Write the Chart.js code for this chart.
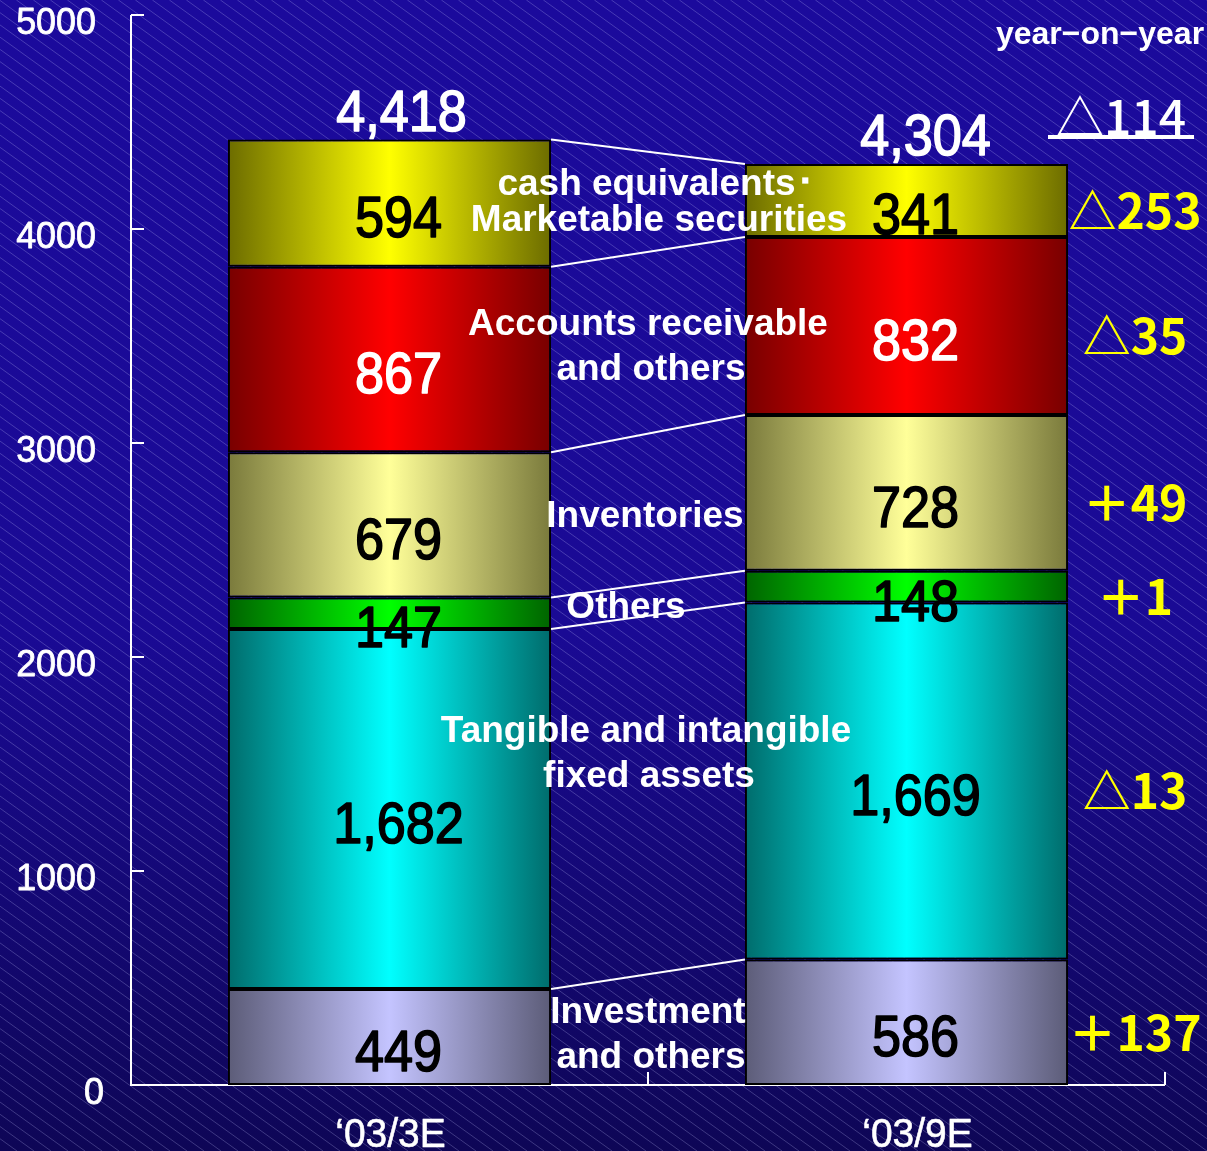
<!DOCTYPE html>
<html>
<head>
<meta charset="utf-8">
<script src="https://cdn.jsdelivr.net/npm/chart.js@4.4.1/dist/chart.umd.min.js"></script>
<style>
  html, body { margin: 0; padding: 0; background: #150a80; }
  canvas { display: block; }
</style>
</head>
<body>
<canvas id="assetChart" width="1207" height="1151"></canvas>
<script>
'use strict';

/* ---- data (units: hundred million yen) ---- */
const periods     = ['\u201803/3E', '\u201803/9E'];
const investment  = [449, 586];
const fixedAssets = [1682, 1669];
const others      = [147, 148];
const inventories = [679, 728];
const receivables = [867, 832];
const cashSecs    = [594, 341];
const yTicks      = [0, 1000, 2000, 3000, 4000, 5000];

const segmentNames = [
    ['Investment', 'and others'],
    ['Tangible and intangible', 'fixed assets'],
    ['Others'],
    ['Inventories'],
    ['Accounts receivable', 'and others'],
    ['cash equivalents\uFF65', 'Marketable securities']
];

/* ---- look ---- */
const BAR_FRACTION = 0.625;
const SANS = '"Liberation Sans", Arial, sans-serif';
const CJK  = '"Noto Sans CJK JP", sans-serif';

// where each segment name sits between the bars: [x, y of first line, line gap]
const nameSpots = [
    [648, 1013, 45],
    [646, 732, 45],
    [626, 608, 0],
    [645, 517, 0],
    [648, 325, 45],
    [656, 185, 36]
];

function fmt(v) { return v.toLocaleString('en-US'); }
function yoy(a, b) {
    const d = b - a;
    return d < 0 ? '\u25B3' + Math.abs(d) : '\uFF0B' + d;
}

// text squeezed horizontally, with a thin outline to thicken strokes
function narrowText(ctx, txt, x, y, sx, heavy) {
    ctx.save();
    ctx.translate(x, y);
    ctx.scale(sx, 1);
    if (heavy) {
        ctx.lineWidth = heavy;
        ctx.strokeStyle = ctx.fillStyle;
        ctx.lineJoin = 'round';
        ctx.strokeText(txt, 0, 0);
    }
    ctx.fillText(txt, 0, 0);
    ctx.restore();
}

function barGradient(dark, light) {
    return ctx => {
        const chart = ctx.chart;
        const area  = chart.chartArea;
        if (!area || ctx.dataIndex === undefined) return light;
        const cx   = chart.scales.x.getPixelForValue(ctx.dataIndex);
        const half = (area.width / periods.length) * BAR_FRACTION / 2;
        const g = chart.ctx.createLinearGradient(cx - half, 0, cx + half, 0);
        g.addColorStop(0, dark);
        g.addColorStop(0.5, light);
        g.addColorStop(1, dark);
        return g;
    };
}

const series = [
    { label: segmentNames[0].join(' '), data: investment,  dark: '#5c5c78', light: '#c4c4ff', text: '#000' },
    { label: segmentNames[1].join(' '), data: fixedAssets, dark: '#006c6c', light: '#00ffff', text: '#000' },
    { label: segmentNames[2].join(' '), data: others,      dark: '#006400', light: '#00ff00', text: '#000' },
    { label: segmentNames[3].join(' '), data: inventories, dark: '#7a7a3c', light: '#ffff99', text: '#000' },
    { label: segmentNames[4].join(' '), data: receivables, dark: '#780000', light: '#ff0000', text: '#fff' },
    { label: segmentNames[5].join(' '), data: cashSecs,    dark: '#6c6c00', light: '#ffff00', text: '#000' }
];

/* ---- background: blue gradient with fine diagonal hatching ---- */
const backdrop = {
    id: 'backdrop',
    beforeDraw(chart) {
        const { ctx, width, height } = chart;
        ctx.save();
        const g = ctx.createLinearGradient(0, 0, 0, height);
        g.addColorStop(0, '#1b0a9c');
        g.addColorStop(0.55, '#1a0a94');
        g.addColorStop(1, '#0e0656');
        ctx.fillStyle = g;
        ctx.fillRect(0, 0, width, height);
        ctx.strokeStyle = 'rgba(200,200,255,0.26)';
        ctx.lineWidth = 1;
        const slope = 0.72, step = 17;
        const run = height / slope;
        ctx.beginPath();
        for (let x = -run; x < width; x += step) {
            ctx.moveTo(x, 0);
            ctx.lineTo(x + run, height);
        }
        ctx.stroke();
        ctx.restore();
    }
};

/* ---- axes with inward ticks ---- */
const axes = {
    id: 'axes',
    beforeDatasetsDraw(chart) {
        const { ctx, chartArea: a, scales } = chart;
        ctx.save();
        ctx.strokeStyle = '#ffffff';
        ctx.lineWidth = 2;
        ctx.beginPath();
        ctx.moveTo(a.left, a.top);
        ctx.lineTo(a.left, a.bottom);
        ctx.lineTo(a.right, a.bottom);
        yTicks.forEach(t => {
            const y = scales.y.getPixelForValue(t);
            ctx.moveTo(a.left, y);
            ctx.lineTo(a.left + 13, y);
        });
        const catW = a.width / periods.length;
        for (let i = 1; i <= periods.length; i++) {
            const x = a.left + catW * i;
            ctx.moveTo(x, a.bottom);
            ctx.lineTo(x, a.bottom - 13);
        }
        ctx.stroke();

        ctx.fillStyle = '#ffffff';
        ctx.font = '37px ' + SANS;
        ctx.textAlign = 'right';
        ctx.textBaseline = 'middle';
        yTicks.forEach(t => {
            const y = scales.y.getPixelForValue(t);
            narrowText(ctx, String(t), t === 0 ? 104 : 96, y + 9, 0.97, 0.8);
        });
        ctx.textAlign = 'center';
        ctx.font = '41px ' + SANS;
        periods.forEach((p, i) => {
            narrowText(ctx, p, scales.x.getPixelForValue(i) + 1 + 10 * i, a.bottom + 51, 0.95, 0.6);
        });
        ctx.restore();
    }
};

/* ---- connector lines, value labels, names, year-on-year ---- */
const annotations = {
    id: 'annotations',
    afterDatasetsDraw(chart) {
        const { ctx } = chart;
        const metas = series.map((s, i) => chart.getDatasetMeta(i));
        ctx.save();

        // lines joining segment tops of the two bars
        ctx.strokeStyle = '#ffffff';
        ctx.lineWidth = 2;
        ctx.beginPath();
        metas.forEach(m => {
            const l = m.data[0], r = m.data[1];
            ctx.moveTo(l.x + l.width / 2, l.y);
            ctx.lineTo(r.x - r.width / 2, r.y);
        });
        ctx.stroke();

        // segment values
        ctx.textAlign = 'center';
        ctx.textBaseline = 'middle';
        ctx.font = '58px ' + SANS;
        metas.forEach((m, si) => {
            m.data.forEach((el, i) => {
                ctx.fillStyle = series[si].text;
                narrowText(ctx, fmt(series[si].data[i]), el.x + 9, (el.y + el.base) / 2 + 18, 0.9, 1.6);
            });
        });

        // totals above the bars
        ctx.fillStyle = '#ffffff';
        const top = metas[metas.length - 1];
        periods.forEach((p, i) => {
            const total = series.reduce((sum, s) => sum + s.data[i], 0);
            narrowText(ctx, fmt(total), top.data[i].x + 12 + 7 * i, top.data[i].y - 25, 0.9, 1.6);
        });

        // segment names between the bars
        ctx.font = 'bold 37px ' + SANS;
        segmentNames.forEach((lines, si) => {
            const [x, y, gap] = nameSpots[si];
            lines.forEach((txt, li) => ctx.fillText(txt, x + li * 3, y + li * gap));
        });

        // year-on-year column
        ctx.font = 'bold 32px ' + SANS;
        ctx.fillText('year\u2212on\u2212year', 1100, 35);

        const totA = series.reduce((sum, s) => sum + s.data[0], 0);
        const totB = series.reduce((sum, s) => sum + s.data[1], 0);
        ctx.font = '500 48px ' + CJK;
        ctx.fillText(yoy(totA, totB), 1121, 117);
        ctx.fillRect(1048, 135, 146, 4);

        ctx.fillStyle = '#ffff00';
        ctx.font = 'bold 48px ' + CJK;
        metas.forEach((m, si) => {
            const el = m.data[1];
            ctx.fillText(yoy(series[si].data[0], series[si].data[1]), 1135, (el.y + el.base) / 2 + 10);
        });
        ctx.restore();
    }
};

new Chart(document.getElementById('assetChart'), {
    type: 'bar',
    data: {
        labels: periods,
        datasets: series.map(s => ({
            label: s.label,
            data: s.data,
            backgroundColor: barGradient(s.dark, s.light),
            borderColor: '#000000',
            borderWidth: 2,
            borderSkipped: false,
            categoryPercentage: 1,
            barPercentage: BAR_FRACTION
        }))
    },
    options: {
        responsive: false,
        animation: false,
        devicePixelRatio: 1,
        layout: { padding: { left: 131, right: 42, top: 15, bottom: 66 } },
        plugins: { legend: { display: false }, tooltip: { enabled: false } },
        scales: {
            x: { stacked: true, display: false },
            y: { stacked: true, display: false, min: 0, max: 5000 }
        }
    },
    plugins: [backdrop, axes, annotations]
});
</script>
</body>
</html>
